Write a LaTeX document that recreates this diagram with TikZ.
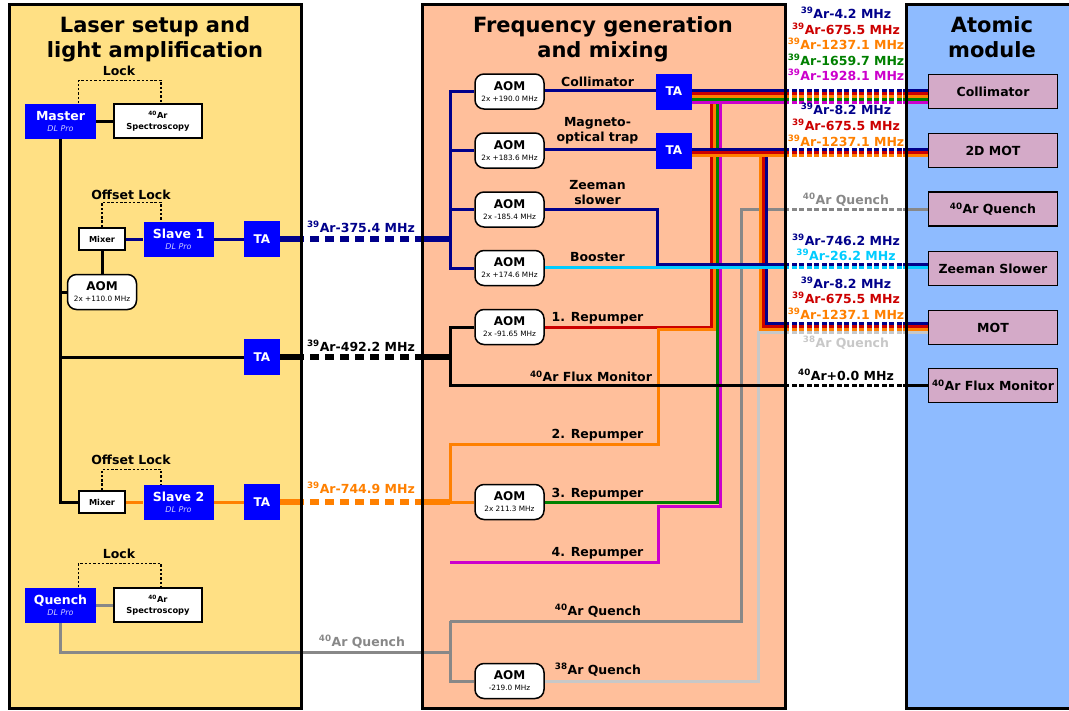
\documentclass[tikz,border=0pt]{standalone}
\usepackage{fontspec}
\setmainfont{DejaVu Sans}

\definecolor{panelyellow}{RGB}{255,224,132}
\definecolor{panelsalmon}{RGB}{255,191,155}
\definecolor{panelblue}{RGB}{142,187,255}
\definecolor{modpink}{RGB}{212,170,200}
\definecolor{lasblue}{RGB}{0,0,255}
\definecolor{dlpro}{RGB}{205,205,255}
\definecolor{arnavy}{RGB}{0,0,139}
\definecolor{arred}{RGB}{204,0,0}
\definecolor{arorange}{RGB}{255,128,0}
\definecolor{argreen}{RGB}{0,128,0}
\definecolor{armagenta}{RGB}{204,0,204}
\definecolor{arcyan}{RGB}{0,204,255}
\definecolor{argray}{RGB}{136,136,136}
\definecolor{arlight}{RGB}{200,200,200}

\newcommand{\iso}[1]{\textsuperscript{#1}}
\newcommand{\dlpro}{{\mdseries\itshape\fontsize{8}{9}\selectfont\color{dlpro}DL Pro}}
\newcommand{\aomsub}[1]{{\mdseries\fontsize{7.3}{8}\selectfont #1}}

\tikzset{
  panel/.style={draw=black, line width=3pt},
  titletext/.style={anchor=base, inner sep=0pt, font=\bfseries\fontsize{21}{25}\selectfont},
  laserbox/.style={fill=lasblue, text=white, minimum width=71pt, minimum height=35pt, inner sep=0pt, align=center, font=\bfseries\fontsize{12.5}{12}\selectfont},
  tabox/.style={fill=lasblue, text=white, minimum width=36pt, minimum height=36pt, inner sep=0pt, font=\bfseries\fontsize{12}{12}\selectfont},
  specbox/.style={draw=black, line width=1.5pt, fill=white, minimum width=88pt, minimum height=34pt, inner sep=0pt, align=center, font=\bfseries\fontsize{8.3}{10}\selectfont},
  mixbox/.style={draw=black, line width=1.5pt, fill=white, minimum width=46pt, minimum height=22pt, inner sep=0pt, font=\bfseries\fontsize{8.2}{9}\selectfont},
  aombox/.style={draw=black, line width=1.5pt, fill=white, rounded corners=9pt, minimum width=69pt, minimum height=35pt, inner sep=0pt, align=center, font=\bfseries\fontsize{12}{11}\selectfont},
  modbox/.style={draw=black, line width=1.5pt, fill=modpink, minimum width=129pt, minimum height=34pt, inner sep=0pt, font=\bfseries\fontsize{12.5}{13}\selectfont},
  lbl/.style={anchor=base, inner sep=0pt, font=\bfseries\fontsize{12.5}{13}\selectfont},
  wire/.style={line width=3pt},
  beam/.style={line width=5.5pt},
  lockline/.style={line width=1.2pt, dash pattern=on 2.5pt off 1.8pt},
  gapcut/.style={draw=white, dash pattern=on 2.5pt off 5pt},
  beamcut/.style={draw=white, line width=7pt, dash pattern=on 6pt off 9pt},
}

\begin{document}
\begin{tikzpicture}[x=1pt,y=1pt,yscale=-1]
\useasboundingbox (0,0) rectangle (1069,710);

% Panels
\fill[panelyellow] (9,4) rectangle (301,708);
\fill[panelsalmon] (422,4) rectangle (785,708);
\fill[panelblue] (906,4) rectangle (1085,708);

% Panel titles
\node[titletext] (tlas1) at (155,32) {Laser setup and};
\node[titletext] (tlas2) at (155,57) {light amplification};
\node[titletext] (tfre1) at (603,32) {Frequency generation};
\node[titletext] (tfre2) at (603,57) {and mixing};
\node[titletext] (tatm1) at (992,32) {Atomic};
\node[titletext] (tatm2) at (992,57) {module};

% Lasers and amplifiers
\node[laserbox] (master) at (60.5,121) {Master\\[-1pt]\dlpro};
\node[specbox] (spec1) at (158,121) {\iso{40}Ar\\[1pt]Spectroscopy};
\node[mixbox] (mix1) at (102,239) {Mixer};
\node[laserbox,minimum width=70pt] (slave1) at (178.5,239) {Slave 1\\[-1pt]\dlpro};
\node[tabox] (ta1) at (262,239) {TA};
\node[aombox] (aomL) at (102,292) {AOM\\\aomsub{2x +110.0 MHz}};
\node[tabox] (ta2) at (262,357) {TA};
\node[mixbox] (mix2) at (102,502) {Mixer};
\node[laserbox,minimum width=70pt] (slave2) at (178.5,502) {Slave 2\\[-1pt]\dlpro};
\node[tabox] (ta3) at (262,502) {TA};
\node[laserbox] (quench) at (60.5,605) {Quench\\[-1pt]\dlpro};
\node[specbox] (spec2) at (158,605) {\iso{40}Ar\\[1pt]Spectroscopy};

% AOMs and TAs of the mixing stage
\node[aombox] (aomC) at (509.5,91.5) {AOM\\\aomsub{2x +190.0 MHz}};
\node[aombox] (aomM) at (509.5,150.5) {AOM\\\aomsub{2x +183.6 MHz}};
\node[aombox] (aomZ) at (509.5,209.5) {AOM\\\aomsub{2x -185.4 MHz}};
\node[aombox] (aomB) at (509.5,268) {AOM\\\aomsub{2x +174.6 MHz}};
\node[aombox] (aomR1) at (509.5,327) {AOM\\\aomsub{2x -91.65 MHz}};
\node[aombox] (aomR3) at (509.5,502) {AOM\\\aomsub{2x 211.3 MHz}};
\node[aombox] (aomQ) at (509.5,681) {AOM\\\aomsub{-219.0 MHz}};
\node[tabox] (taC) at (674,91.5) {TA};
\node[tabox] (taM) at (674,150.5) {TA};

% Atomic module
\node[modbox] (colli) at (993,91.5) {Collimator};
\node[modbox] (mot2d) at (993,150.5) {2D MOT};
\node[modbox] (quench40) at (993,209) {\iso{40}Ar Quench};
\node[modbox] (zeeman) at (993,268.5) {Zeeman Slower};
\node[modbox] (mot) at (993,327.5) {MOT};
\node[modbox] (flux) at (993,385.5) {\iso{40}Ar Flux Monitor};

% Junctions and bends
\coordinate (nvJ) at (450,239);
\coordinate (bkJ) at (450,357);
\coordinate (orJ) at (450,502);
\coordinate (gyJ) at (450,652);
\coordinate (gyTop) at (450,621);
\coordinate (mgStart) at (450,562);
\coordinate (qTurn) at (741,209);
\coordinate (lgTurn) at (758,332);

% Locks
\draw[lockline] ([xshift=18pt]master.north) -- ++(0,-23) -| ([xshift=3pt]spec1.north);
\draw[lockline] (mix1.north) -- ++(0,-25) -| ([xshift=-17.5pt]slave1.north);
\draw[lockline] (mix2.north) -- ++(0,-21) -| ([xshift=-17.5pt]slave2.north);
\draw[lockline] ([xshift=18pt]quench.north) -- ++(0,-24) -| ([xshift=3pt]spec2.north);

% Laser setup wiring
\draw[wire] (master) -- (spec1);
\draw[wire] (master.south) |- (mix2.west);
\draw[wire] (master.south |- aomL.west) -- (aomL.west);
\draw[wire] (master.south |- ta2.west) -- (ta2.west);
\draw[wire] (mix1) -- (aomL);
\draw[wire,arnavy] (mix1) -- (slave1);
\draw[wire,arnavy] (slave1) -- (ta1);
\draw[wire,arorange] (mix2) -- (slave2);
\draw[wire,arorange] (slave2) -- (ta3);
\draw[wire,argray] (quench) -- (spec2);

% Amplified light to the mixing stage
\draw[beam,arnavy] (ta1) -- (nvJ);
\draw[beam] (ta2) -- (bkJ);
\draw[beam,arorange] (ta3) -- (orJ);
\draw[wire,argray] (quench.south) |- (gyJ);

% 40Ar quench and 38Ar quench
\draw[wire,argray] (gyTop) |- (aomQ.west);
\draw[wire,argray] (gyTop) -| (qTurn) -- (quench40);
\draw[wire,arlight] (aomQ.east) -| (lgTurn) -- ([yshift=4.5pt]mot.west);

% Navy distribution
\draw[wire,arnavy] (aomC.west) -| (nvJ) |- (aomB.west);
\draw[wire,arnavy] (aomM.west) -- (aomM.west -| nvJ);
\draw[wire,arnavy] (aomZ.west) -- (aomZ.west -| nvJ);
\draw[wire,arnavy] ([yshift=-1.5pt]aomC.east) -- ([yshift=-1.5pt]taC.west);
\draw[wire,arnavy] ([yshift=-1pt]aomM.east) -- ([yshift=-1pt]taM.west);

% Repumpers
\draw[wire,arorange] (orJ) -- (aomR3);
\draw[wire,arred] (aomR1.east) -| (711,93);
\draw[wire,arorange] (orJ) |- (658,444) |- (714,329) -- (714,96);
\draw[wire,argreen] (aomR3.east) -| (717,99);
\draw[wire,armagenta] (mgStart) -| (658,506) -| (720,102);

% Collimator bundle
\draw[wire,arnavy] ([yshift=-1.5pt]taC.east) -- ([yshift=-1.5pt]colli.west);
\draw[wire,arred] ([yshift=1.5pt]taC.east) -- ([yshift=1.5pt]colli.west);
\draw[wire,arorange] ([yshift=4.5pt]taC.east) -- ([yshift=4.5pt]colli.west);
\draw[wire,argreen] ([yshift=7.5pt]taC.east) -- ([yshift=7.5pt]colli.west);
\draw[wire,armagenta] ([yshift=10.5pt]taC.east) -- ([yshift=10.5pt]colli.west);

% MOT column
\draw[wire,arorange] (760,155) |- ([yshift=1.5pt]mot.west);
\draw[wire,arred] (763,152) |- ([yshift=-1.5pt]mot.west);
\draw[wire,arnavy] (766,149) |- ([yshift=-4.5pt]mot.west);

% 2D MOT bundle
\draw[wire,arnavy] ([yshift=-1.5pt]taM.east) -- ([yshift=-1.5pt]mot2d.west);
\draw[wire,arred] ([yshift=1.5pt]taM.east) -- ([yshift=1.5pt]mot2d.west);
\draw[wire,arorange] ([yshift=4.5pt]taM.east) -- ([yshift=4.5pt]mot2d.west);

% Zeeman slower and booster
\draw[wire,arnavy] (aomZ.east) -| (657,264) -- ([yshift=-4.5pt]zeeman.west);
\draw[wire,arcyan] ([yshift=-1pt]aomB.east) -- ([yshift=-1.5pt]zeeman.west);

% Flux monitor
\draw[wire] (aomR1.west) -| (bkJ) |- (flux.west);

% Gaps between the panels
\draw[beamcut] (304,239) -- (419,239);
\draw[beamcut] (304,357) -- (419,357);
\draw[beamcut] (304,502) -- (419,502);
\draw[gapcut,line width=16pt] (789,96) -- (903,96);
\draw[gapcut,line width=10pt] (789,152) -- (903,152);
\draw[gapcut,line width=4pt] (789,209) -- (903,209);
\draw[gapcut,line width=7pt] (789,265.5) -- (903,265.5);
\draw[gapcut,line width=13pt] (789,327.5) -- (903,327.5);
\draw[gapcut,line width=4pt] (789,385.5) -- (903,385.5);

% Panel borders
\draw[panel] (9,4) rectangle (301,708);
\draw[panel] (422,4) rectangle (785,708);
\draw[panel] (906,4) rectangle (1085,708);

% Text Node
\node[lbl] (lk1) at (119,75) {Lock};
\node[lbl] (olk1) at (131,199) {Offset Lock};
\node[lbl] (olk2) at (131,464) {Offset Lock};
\node[lbl] (lk2) at (119,558) {Lock};

% Text Node
\node[lbl,arnavy] (f1) at (361,232) {\iso{39}Ar-375.4 MHz};
\node[lbl] (f2) at (361,351) {\iso{39}Ar-492.2 MHz};
\node[lbl,arorange] (f3) at (361,493) {\iso{39}Ar-744.9 MHz};
\node[lbl,argray] (f4) at (362,646) {\iso{40}Ar Quench};

% Text Node
\node[lbl] (nColl) at (597.5,86.5) {Collimator};
\node[lbl] (nMag1) at (597.5,126.5) {Magneto-};
\node[lbl] (nMag2) at (597.5,141) {optical trap};
\node[lbl] (nZee1) at (597.5,189) {Zeeman};
\node[lbl] (nZee2) at (597.5,204) {slower};
\node[lbl] (nBoo) at (597.5,261) {Booster};
\node[lbl] (nRp1) at (597.5,321) {1. Repumper};
\node[lbl] (nFlux) at (591,381.5) {\iso{40}Ar Flux Monitor};
\node[lbl] (nRp2) at (597.5,438) {2. Repumper};
\node[lbl] (nRp3) at (597.5,497) {3. Repumper};
\node[lbl] (nRp4) at (597.5,556) {4. Repumper};
\node[lbl] (nQ40) at (598,615) {\iso{40}Ar Quench};
\node[lbl] (nQ38) at (598,674) {\iso{38}Ar Quench};

% Text Node
\node[lbl,arnavy] (c1) at (846,18) {\iso{39}Ar-4.2 MHz};
\node[lbl,arred] (c2) at (846,34) {\iso{39}Ar-675.5 MHz};
\node[lbl,arorange] (c3) at (846,49) {\iso{39}Ar-1237.1 MHz};
\node[lbl,argreen] (c4) at (846,65) {\iso{39}Ar-1659.7 MHz};
\node[lbl,armagenta] (c5) at (846,80) {\iso{39}Ar-1928.1 MHz};
\node[lbl,arnavy] (d1) at (846,114) {\iso{39}Ar-8.2 MHz};
\node[lbl,arred] (d2) at (846,130) {\iso{39}Ar-675.5 MHz};
\node[lbl,arorange] (d3) at (846,146) {\iso{39}Ar-1237.1 MHz};
\node[lbl,argray] (q1) at (846,204) {\iso{40}Ar Quench};
\node[lbl,arnavy] (z1) at (846,245) {\iso{39}Ar-746.2 MHz};
\node[lbl,arcyan] (z2) at (846,260) {\iso{39}Ar-26.2 MHz};
\node[lbl,arnavy] (m1) at (846,288) {\iso{39}Ar-8.2 MHz};
\node[lbl,arred] (m2) at (846,303) {\iso{39}Ar-675.5 MHz};
\node[lbl,arorange] (m3) at (846,319) {\iso{39}Ar-1237.1 MHz};
\node[lbl,arlight] (m4) at (846,347) {\iso{38}Ar Quench};
\node[lbl] (fm1) at (846,380) {\iso{40}Ar+0.0 MHz};

\end{tikzpicture}
\end{document}
